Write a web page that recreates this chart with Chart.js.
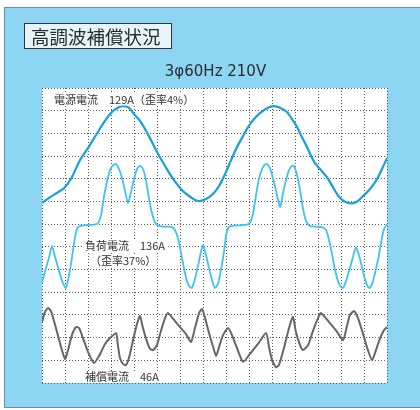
<!DOCTYPE html>
<html>
<head>
<meta charset="utf-8">
<script src="https://cdn.jsdelivr.net/npm/chart.js@4.4.1/dist/chart.umd.min.js"></script>
<style>
  html, body { margin: 0; padding: 0; background: #ffffff; overflow: hidden; }
  #wrap { position: relative; width: 420px; height: 410px; }
</style>
</head>
<body>
<div id="wrap"><canvas id="c" width="420" height="410"></canvas></div>
<script>
// Waveforms over 15 horizontal x 13 vertical grid divisions.
const sourceX = [0,0.35,0.70,1.00,1.30,1.65,2.00,2.35,2.70,3.04,3.26,3.48,3.74,4.00,4.30,4.65,5.00,5.35,5.70,6.04,6.39,6.78,7.13,7.43,7.70,7.96,8.22,8.48,8.74,8.96,9.22,9.48,9.78,10.09,10.39,10.65,10.87,11.09,11.30,11.52,11.70,11.87,12.13,12.39,12.65,12.96,13.30,13.65,13.96,14.26,14.57,14.78,15.00];
const sourceY = [7.93,8.19,8.41,8.63,9.07,9.82,10.35,10.93,11.50,11.94,12.11,12.20,12.16,11.85,11.50,10.88,10.18,9.56,8.99,8.55,8.24,8.02,8.11,8.33,8.68,9.21,9.82,10.40,10.88,11.28,11.63,11.89,12.11,12.20,12.11,11.94,11.63,11.28,10.84,10.40,10.00,9.69,9.38,9.07,8.63,8.15,7.93,7.97,8.24,8.55,8.99,9.43,9.91];

const loadX = [0,0.13,0.30,0.43,0.57,0.74,0.91,1.04,1.17,1.30,1.39,1.48,1.57,1.74,2.00,2.26,2.43,2.57,2.70,2.83,2.96,3.09,3.22,3.35,3.48,3.61,3.74,3.87,4.00,4.13,4.26,4.39,4.52,4.65,4.78,4.91,5.04,5.26,5.48,5.65,5.78,5.91,6.04,6.17,6.30,6.43,6.52,6.65,6.78,6.91,7.00,7.13,7.26,7.39,7.52,7.65,7.78,7.91,8.00,8.09,8.22,8.43,8.70,8.91,9.04,9.17,9.30,9.43,9.57,9.70,9.78,9.91,10.04,10.17,10.35,10.48,10.61,10.74,10.87,10.96,11.09,11.22,11.35,11.48,11.65,11.91,12.17,12.35,12.48,12.61,12.74,12.87,13.00,13.09,13.22,13.39,13.52,13.65,13.78,13.91,14.04,14.17,14.26,14.39,14.52,14.65,14.78,14.87,15.00];
const loadY = [4.41,4.93,5.51,6.04,5.55,4.93,4.41,4.19,4.71,5.51,6.12,6.65,6.87,6.94,6.96,6.98,7.03,7.40,8.24,8.90,9.38,9.60,9.65,9.43,9.03,8.46,7.93,8.41,8.99,9.43,9.58,9.43,8.94,8.15,7.49,7.09,6.94,6.89,6.89,6.87,6.74,6.39,5.77,5.07,4.49,4.23,4.19,4.58,5.15,5.77,6.08,5.64,5.07,4.54,4.19,4.36,4.98,5.77,6.48,6.83,6.92,6.94,6.96,6.98,7.05,7.44,8.24,8.99,9.43,9.63,9.65,9.47,9.03,8.50,7.75,8.37,8.94,9.38,9.58,9.56,9.16,8.50,7.67,7.14,6.92,6.89,6.87,6.74,6.30,5.68,4.98,4.49,4.23,4.19,4.49,5.07,5.55,5.99,5.64,5.11,4.58,4.23,4.19,4.49,5.02,5.64,6.39,6.78,7.00];

const compX = [0,0.13,0.26,0.39,0.57,0.78,1.00,1.13,1.30,1.48,1.61,1.78,2.00,2.26,2.48,2.74,2.96,3.22,3.30,3.39,3.52,3.65,3.78,3.96,4.13,4.26,4.39,4.57,4.70,4.83,5.00,5.17,5.35,5.48,5.78,6.04,6.26,6.48,6.65,6.83,6.96,7.09,7.26,7.43,7.57,7.70,7.87,8.09,8.26,8.48,8.74,9.04,9.39,9.74,9.87,10.00,10.17,10.30,10.52,10.74,10.91,11.04,11.22,11.35,11.57,11.78,12.00,12.13,12.52,12.83,13.09,13.26,13.39,13.57,13.74,13.96,14.17,14.35,14.52,14.70,14.87,15.00];
const compY = [2.69,3.13,3.30,3.17,2.56,1.76,1.06,1.45,2.11,2.47,2.42,1.98,1.37,0.88,1.19,1.72,1.98,2.20,1.67,1.10,0.84,0.79,1.10,1.89,2.60,2.95,2.42,1.81,1.50,1.45,1.67,2.29,2.86,3.08,2.73,2.42,2.16,1.81,2.42,3.08,3.26,2.86,2.20,1.63,1.19,1.59,2.11,2.42,2.11,1.54,0.93,1.28,1.72,2.20,1.59,1.01,0.70,0.79,1.54,2.42,2.91,2.25,1.67,1.45,1.67,2.29,2.86,3.08,2.64,2.25,1.89,2.51,3.00,3.17,2.86,2.16,1.45,1.01,1.45,1.98,2.33,2.47];

const titleText = '高調波補償状況';
const subtitleText = '3φ60Hz 210V';
const sourceLabel = '電源電流　129A（歪率4%）';
const loadLabel1 = '負荷電流　136A';
const loadLabel2 = '（歪率37%）';
const compLabel = '補償電流　46A';

const JP = '"Noto Sans CJK JP", "Noto Sans", sans-serif';

function pts(xs, ys) { return xs.map((x, i) => ({ x: x, y: ys[i] })); }

// Panel background, title box and captions.
const decor = {
  id: 'decor',
  beforeDraw(chart) {
    const ctx = chart.ctx, a = chart.chartArea;
    ctx.save();
    ctx.fillStyle = '#ffffff';
    ctx.fillRect(0, 0, chart.width, chart.height);
    ctx.fillStyle = '#8cd6f4';
    ctx.fillRect(4, 7, chart.width - 4, chart.height - 9);
    ctx.strokeStyle = '#6f8c99';
    ctx.lineWidth = 1;
    ctx.beginPath();
    ctx.moveTo(4.5, chart.height - 2.5);
    ctx.lineTo(4.5, 7.5);
    ctx.lineTo(chart.width, 7.5);
    ctx.moveTo(4.5, chart.height - 2.5);
    ctx.lineTo(chart.width, chart.height - 2.5);
    ctx.stroke();
    ctx.fillStyle = '#ffffff';
    ctx.fillRect(a.left, a.top, a.right - a.left, a.bottom - a.top);

    // title box
    ctx.fillStyle = '#e6f5fc';
    ctx.fillRect(24.5, 23.5, 147, 25);
    ctx.strokeStyle = '#333333';
    ctx.strokeRect(24.5, 23.5, 147, 25);
    ctx.fillStyle = '#2b2b2b';
    ctx.font = '18.5px ' + JP;
    ctx.textBaseline = 'middle';
    ctx.textAlign = 'left';
    ctx.fillText(titleText, 31, 36.5);

    ctx.font = '15px "DejaVu Sans", sans-serif';
    ctx.textAlign = 'center';
    ctx.fillStyle = '#2b2b2b';
    ctx.fillText(subtitleText, 215.5, 72);
    ctx.restore();
  },
  afterDatasetsDraw(chart) {
    const ctx = chart.ctx;
    ctx.save();
    ctx.font = '11px ' + JP;
    ctx.textBaseline = 'middle';
    ctx.textAlign = 'left';
    const label = (t, x, y) => {
      const w = ctx.measureText(t).width;
      ctx.fillStyle = '#ffffff';
      ctx.fillRect(x - 1, y - 6, w + 2, 12);
      ctx.fillStyle = '#333333';
      ctx.fillText(t, x, y);
    };
    label(sourceLabel, 54, 99.5);
    label(loadLabel1, 85, 246);
    label(loadLabel2, 90, 261);
    label(compLabel, 85, 377);
    ctx.restore();
  }
};

new Chart(document.getElementById('c'), {
  type: 'line',
  data: {
    datasets: [
      { label: '電源電流', data: pts(sourceX, sourceY), borderColor: '#1a9edc', borderWidth: 2.2, tension: 0.4, pointRadius: 0 },
      { label: '負荷電流', data: pts(loadX, loadY), borderColor: '#3fc3ef', borderWidth: 1.8, tension: 0.2, pointRadius: 0 },
      { label: '補償電流', data: pts(compX, compY), borderColor: '#666666', borderWidth: 2, tension: 0.2, pointRadius: 0 }
    ]
  },
  options: {
    responsive: false,
    animation: false,
    devicePixelRatio: 1,
    layout: { padding: { left: 42, right: 33, top: 88, bottom: 27 } },
    plugins: { legend: { display: false }, tooltip: { enabled: false } },
    scales: {
      x: {
        type: 'linear', min: 0, max: 15,
        ticks: { display: false, stepSize: 1 },
        grid: { color: '#5a5a5a', lineWidth: 1, drawTicks: false },
        border: { display: false, dash: [1, 2] }
      },
      y: {
        type: 'linear', min: 0, max: 13,
        ticks: { display: false, stepSize: 1 },
        grid: { color: '#5a5a5a', lineWidth: 1, drawTicks: false },
        border: { display: false, dash: [1, 2] }
      }
    }
  },
  plugins: [decor]
});
</script>
</body>
</html>
